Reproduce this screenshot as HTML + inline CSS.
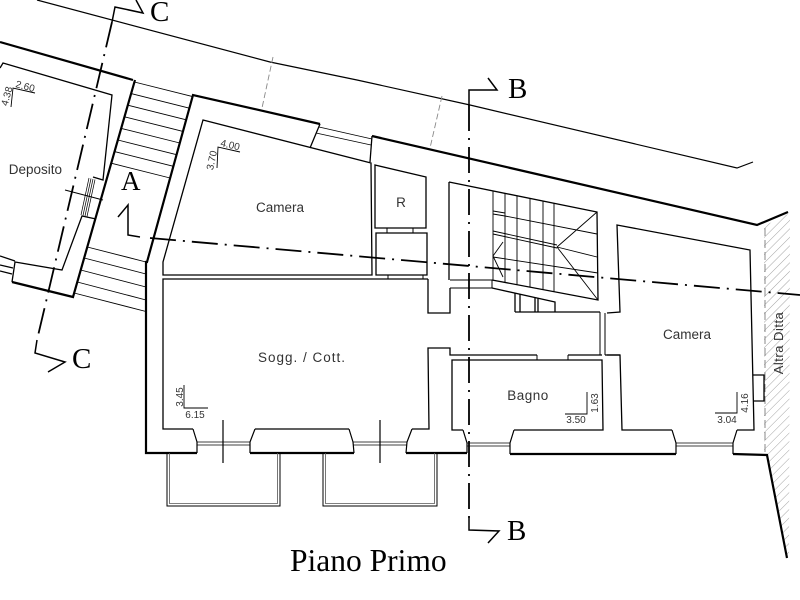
<!DOCTYPE html>
<html><head><meta charset="utf-8"><style>
html,body{margin:0;padding:0;background:#fff;}
svg{display:block;}
.t{font-family:"Liberation Sans",sans-serif;fill:#333;}
.s{font-family:"Liberation Serif",serif;fill:#000;}
</style></head><body>
<svg width="800" height="600" viewBox="0 0 800 600" xmlns="http://www.w3.org/2000/svg">
<defs>
<pattern id="h" patternUnits="userSpaceOnUse" width="6" height="6" patternTransform="rotate(45)">
<line x1="0" y1="0" x2="0" y2="6" stroke="#9a9a9a" stroke-width="0.9"/>
</pattern>
</defs>
<rect width="800" height="600" fill="#fff"/>

<!-- hatch Altra Ditta -->
<polygon points="764,226 790,213 789,558 787,558 767,455 764,455" fill="url(#h)"/>
<line x1="765" y1="228" x2="765" y2="455" stroke="#888" stroke-width="1" stroke-dasharray="8 4"/>

<g fill="none" stroke="#000" stroke-linejoin="miter">
<!-- street line -->
<polyline points="37,0 270,62 357,80 470,105 737,168 753,162" stroke-width="1.2"/>
<!-- grey boundaries -->
<line x1="273" y1="57" x2="262" y2="108" stroke="#888" stroke-width="0.9" stroke-dasharray="6 3"/>
<line x1="442" y1="96" x2="430" y2="148" stroke="#888" stroke-width="0.9" stroke-dasharray="6 3"/>

<!-- outer thick walls -->
<g stroke-width="2.2">
<line x1="0" y1="42" x2="133" y2="80"/>
<polyline points="320,124 193,95 147,262 146,262 146,453 197,453"/>
<polyline points="372,136 757,225 788,212"/>
<line x1="250" y1="453" x2="354" y2="453"/>
<line x1="406" y1="453" x2="467" y2="453"/>
<line x1="510" y1="454" x2="676" y2="454"/>
<polyline points="733,454 767,455 787,558"/>
<!-- deposito outer -->
<polyline points="135,80 73,297 12,282"/>
</g>

<!-- deposito inner -->
<g stroke-width="1.3">
<polyline points="0,68 3,63 112,95 103,180 93,177"/>
<polyline points="96,219 82,216 62,270 15,262 12,282"/>
<line x1="0" y1="256" x2="15" y2="261"/>
<line x1="0" y1="265" x2="13" y2="268"/>
<line x1="0" y1="271" x2="12" y2="274"/>
</g>
<g stroke-width="0.7">
<line x1="89" y1="178" x2="81" y2="215"/>
<line x1="91" y1="178.5" x2="83" y2="215.5"/>
<line x1="93" y1="179" x2="85" y2="216"/>
<line x1="95" y1="179.5" x2="87" y2="216.5"/>
<line x1="65" y1="190" x2="103" y2="200" stroke-width="1"/>
</g>

<!-- stair treads (exterior) -->
<g stroke-width="0.9">
<line x1="134.4" y1="82" x2="192.6" y2="96.6"/>
<line x1="131.1" y1="93.6" x2="189.4" y2="108.2"/>
<line x1="127.8" y1="105.2" x2="186.2" y2="119.8"/>
<line x1="124.5" y1="116.8" x2="183" y2="131.4"/>
<line x1="121.2" y1="128.4" x2="179.8" y2="143"/>
<line x1="117.9" y1="140" x2="176.6" y2="154.7"/>
<line x1="114.5" y1="151.6" x2="173.4" y2="166.3"/>
<line x1="111.2" y1="163.2" x2="170.1" y2="178"/>
<line x1="87.3" y1="247" x2="146" y2="262"/>
<line x1="84.1" y1="258" x2="146" y2="274"/>
<line x1="80.7" y1="270" x2="146" y2="287"/>
<line x1="77.3" y1="282" x2="146" y2="300"/>
<line x1="74.1" y1="293" x2="146" y2="311.5"/>
</g>

<!-- left Camera -->
<g stroke-width="1.3">
<polygon points="203,120 371,163 372,275 163,275 163,262"/>
<line x1="320" y1="124" x2="310" y2="148"/>
<line x1="372" y1="136" x2="370" y2="162"/>
</g>
<line x1="319" y1="127" x2="372" y2="139" stroke-width="0.8"/>
<line x1="316" y1="133" x2="371" y2="145" stroke-width="0.8"/>

<!-- R and closet -->
<g stroke-width="1.3">
<polygon points="375,165 426,177 426,228 375,228"/>
<polygon points="376,233 427,233 427,275 376,275"/>
</g>
<g stroke-width="1">
<line x1="387" y1="228" x2="387" y2="233"/><line x1="413" y1="228" x2="413" y2="233"/>
<line x1="388" y1="275" x2="388" y2="279"/><line x1="423" y1="275" x2="423" y2="279"/>
</g>

<!-- Sogg -->
<g stroke-width="1.3">
<polyline points="428,279 163,279 163,429 193,429"/>
<line x1="255" y1="429" x2="349" y2="429"/>
<polyline points="412,429 429,429 428,348 450,348 450,355 537,355"/>
<polyline points="428,279 428,313 450,313 450,288"/>
<line x1="449" y1="182" x2="449" y2="280"/>
<polyline points="568,355 602,355"/>
<polyline points="605,355 620,355"/>
</g>
<g stroke-width="1">
<line x1="450" y1="280" x2="492" y2="280"/>
<line x1="450" y1="288" x2="492" y2="288"/>
<line x1="492" y1="280" x2="492" y2="288"/>
</g>

<!-- stair block -->
<g stroke-width="1.3">
<polyline points="449,182 597,212 598,300 492,280"/>
<polyline points="492,288 555,302 555,312"/>
<line x1="515" y1="312" x2="600" y2="312"/>
<line x1="515" y1="293" x2="515" y2="312"/>
<line x1="520" y1="294" x2="520" y2="312"/>
<line x1="535" y1="297.5" x2="535" y2="312"/>
<line x1="538" y1="298" x2="538" y2="312"/>
</g>
<g stroke-width="0.9">
<line x1="493" y1="191" x2="493" y2="280"/>
<line x1="505" y1="193.4" x2="505" y2="282.5"/>
<line x1="517" y1="195.8" x2="517" y2="284.7"/>
<line x1="530" y1="198.4" x2="530" y2="287.2"/>
<line x1="543" y1="201.1" x2="543" y2="289.6"/>
<line x1="554" y1="203.3" x2="554" y2="291.7"/>
<line x1="493" y1="211" x2="505" y2="213"/>
<line x1="493" y1="214" x2="505" y2="216"/>
<line x1="505" y1="216" x2="597" y2="234"/>
<line x1="493" y1="231" x2="557" y2="245"/>
<line x1="493" y1="234" x2="557" y2="248"/>
<line x1="557" y1="247" x2="597" y2="257"/>
<line x1="493" y1="257" x2="598" y2="273"/>
<line x1="557" y1="247" x2="597" y2="212"/>
<line x1="557" y1="247" x2="598" y2="300"/>
<polyline points="503,242 493,256 503,277"/>
</g>

<!-- door to right camera -->
<g stroke-width="1">
<line x1="600" y1="312" x2="600" y2="355"/>
<line x1="605" y1="313" x2="605" y2="355"/>
</g>

<!-- Bagno -->
<g stroke-width="1.3">
<polyline points="463,430 452,430 452,360 602,360 603,430 514,430"/>
</g>
<line x1="537" y1="355" x2="537" y2="360" stroke-width="1"/>
<line x1="568" y1="355" x2="568" y2="360" stroke-width="1"/>

<!-- right Camera -->
<g stroke-width="1.3">
<polyline points="607,313 620,312 617,225 750,250 754,430 737,430"/>
<polyline points="672,430 622,430 620,355 607,355"/>
<polyline points="753,375 764,375 764,401 753,401"/>
</g>

<!-- windows bottom -->
<g stroke-width="1.2">
<polyline points="193,429 197,442 197,453"/>
<polyline points="255,429 250,442 250,453"/>
<polyline points="349,429 353,442 354,453"/>
<polyline points="412,429 407,442 406,453"/>
<polyline points="463,430 467,443 467,453"/>
<polyline points="514,430 510,443 510,454"/>
<polyline points="672,430 676,443 676,454"/>
<polyline points="737,430 733,443 733,454"/>
</g>
<g stroke-width="0.8">
<line x1="197" y1="442" x2="250" y2="442"/><line x1="197" y1="445" x2="250" y2="445"/>
<line x1="353" y1="442" x2="407" y2="442"/><line x1="353" y1="445" x2="407" y2="445"/>
<line x1="467" y1="443" x2="510" y2="443"/><line x1="467" y1="446" x2="510" y2="446"/>
<line x1="676" y1="443" x2="733" y2="443"/><line x1="676" y1="446" x2="733" y2="446"/>
</g>
<!-- balconies -->
<g stroke-width="1">
<polyline points="167,453 167,506 280,506 280,453"/>
<polyline points="169.5,453 169.5,503.5 277.5,503.5 277.5,453" stroke="#555" stroke-width="0.8"/>
<polyline points="323,453 323,506 437,506 437,453"/>
<polyline points="325.5,453 325.5,503.5 434.5,503.5 434.5,453" stroke="#555" stroke-width="0.8"/>
</g>
<line x1="223" y1="420" x2="223" y2="463" stroke-width="1.2"/>
<line x1="380" y1="420" x2="380" y2="463" stroke-width="1.2"/>

<!-- dimension L marks -->
<g stroke-width="0.9">
<polyline points="217,168 218,147 240,152"/>
<polyline points="11,107 13,88 35,93"/>
<polyline points="184,385 184,408 208,408"/>
<polyline points="565,414 587,414 587,392"/>
<polyline points="715,413 737,413 737,392"/>
</g>

<!-- section lines -->
<g stroke-width="1.8" stroke-dasharray="26 7 2 7">
<line x1="112" y1="22" x2="37" y2="340"/>
<line x1="150" y1="238" x2="800" y2="295"/>
<line x1="469" y1="105" x2="469" y2="518"/>
</g>
<g stroke-width="1.5">
<polyline points="112,22 115,7 143,13 136,0"/>
<polyline points="37,340 35,353 65,362 48,372"/>
<polyline points="118,217 128,205 128,235 140,237"/>
<polyline points="469,105 469,90 497,90 488,78"/>
<polyline points="469,518 469,530 499,531 488,543"/>
</g>
</g>

<!-- room labels -->
<g class="t" font-size="13.5" text-anchor="middle">
<text x="280" y="212">Camera</text>
<text x="401" y="207">R</text>
<text x="302" y="362" letter-spacing="1">Sogg. / Cott.</text>
<text x="528" y="400" letter-spacing="0.5">Bagno</text>
<text x="687" y="339">Camera</text>
<text x="62" y="174" text-anchor="end">Deposito</text>
</g>
<text class="t" font-size="13" text-anchor="middle" fill="#555" transform="translate(783,343) rotate(-90)" letter-spacing="0.5">Altra Ditta</text>

<!-- dimension texts -->
<g class="t" font-size="10" fill="#222">
<text transform="translate(220,146) rotate(13)">4.00</text>
<text transform="translate(215,161) rotate(-78)" text-anchor="middle">3.70</text>
<text transform="translate(15,87) rotate(15)">2.60</text>
<text transform="translate(10,97) rotate(-75)" text-anchor="middle">4.38</text>
<text transform="translate(183,397) rotate(-90)" text-anchor="middle">3.45</text>
<text x="195" y="418" text-anchor="middle">6.15</text>
<text transform="translate(598,403) rotate(-90)" text-anchor="middle">1.63</text>
<text x="576" y="423" text-anchor="middle">3.50</text>
<text transform="translate(748,403) rotate(-90)" text-anchor="middle">4.16</text>
<text x="727" y="423" text-anchor="middle">3.04</text>
</g>

<!-- section letters -->
<g class="s" font-size="29">
<text x="150" y="21">C</text>
<text x="121" y="190" font-size="27">A</text>
<text x="508" y="98">B</text>
<text x="72" y="368">C</text>
<text x="507" y="540">B</text>
</g>
<text class="s" x="290" y="571" font-size="31.5">Piano Primo</text>
</svg>
</body></html>
